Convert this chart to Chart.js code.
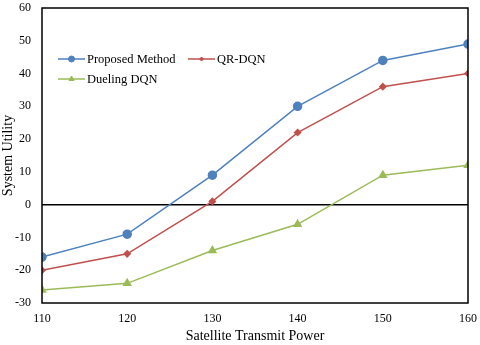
<!DOCTYPE html>
<html>
<head>
<meta charset="utf-8">
<script src="https://cdn.jsdelivr.net/npm/chart.js@4"></script>
<style>
  html, body { margin: 0; padding: 0; background: #fff; }
  #wrap { width: 480px; height: 345px; }
</style>
</head>
<body>
<div id="wrap"><canvas id="lineChart1"></canvas></div>
<script>
var powerLevels = [110, 120, 130, 140, 150, 160];
var proposedData = [-16, -9, 9, 30, 44, 49];
var qrDqnData = [-20, -15, 1, 22, 36, 40];
var duelingData = [-26, -24, -14, -6, 9, 12];
var yTicks = [-30, -20, -10, 0, 10, 20, 30, 40, 50, 60];

var serif = "'Liberation Serif', 'Times New Roman', serif";

function toPoints(vals) {
    return powerLevels.map(function (p, i) { return { x: p, y: vals[i] }; });
}

// frame around the plot + legend drawn inside the plot like the original
var framePlugin = {
    id: 'frame',
    afterDraw: function (chart) {
        var c = chart.ctx, a = chart.chartArea;
        c.save();
        c.strokeStyle = '#000';
        c.lineWidth = 1.5;
        c.strokeRect(a.left, a.top, a.right - a.left, a.bottom - a.top);

        var items = [
            { ds: 0, x: 58, y: 59 },
            { ds: 1, x: 188, y: 59 },
            { ds: 2, x: 58, y: 79 }
        ];
        c.font = '12.5px ' + serif;
        c.textBaseline = 'middle';
        items.forEach(function (it) {
            var ds = chart.data.datasets[it.ds];
            c.strokeStyle = ds.borderColor;
            c.lineWidth = 1.5;
            c.beginPath();
            c.moveTo(it.x, it.y);
            c.lineTo(it.x + 27, it.y);
            c.stroke();
            c.fillStyle = ds.pointBackgroundColor;
            c.strokeStyle = ds.pointBackgroundColor;
            c.lineWidth = 1;
            Chart.helpers.drawPoint(c, {
                pointStyle: ds.pointStyle,
                radius: ds.pointRadius - 1,
                borderWidth: 1
            }, it.x + 13.5, it.y);
            c.fillStyle = '#000';
            c.textAlign = 'left';
            c.fillText(ds.label, it.x + 29, it.y + 1);
        });
        c.restore();
    }
};

var ctx = document.getElementById('lineChart1');
var myChart = new Chart(ctx, {
    type: 'line',
    data: {
        datasets: [{
            label: 'Proposed Method',
            data: toPoints(proposedData),
            borderColor: '#4F81BD',
            backgroundColor: '#4F81BD',
            pointBackgroundColor: '#4F81BD',
            pointBorderColor: '#4F81BD',
            pointStyle: 'circle',
            pointRadius: 4,
            borderWidth: 1.5,
            tension: 0
        }, {
            label: 'QR-DQN',
            data: toPoints(qrDqnData),
            borderColor: '#C0504D',
            backgroundColor: '#C0504D',
            pointBackgroundColor: '#C0504D',
            pointBorderColor: '#C0504D',
            pointStyle: 'rectRot',
            pointRadius: 3,
            borderWidth: 1.5,
            tension: 0
        }, {
            label: 'Dueling DQN',
            data: toPoints(duelingData),
            borderColor: '#9BBB59',
            backgroundColor: '#9BBB59',
            pointBackgroundColor: '#9BBB59',
            pointBorderColor: '#9BBB59',
            pointStyle: 'triangle',
            pointRadius: 4,
            borderWidth: 1.5,
            tension: 0
        }]
    },
    options: {
        responsive: true,
        maintainAspectRatio: false,
        animation: false,
        layout: { padding: { top: 8, right: 12, left: 0, bottom: 0 } },
        plugins: {
            legend: { display: false },
            tooltip: { enabled: false }
        },
        scales: {
            x: {
                type: 'linear',
                min: 110,
                max: 160,
                afterFit: function (s) {
                    s.height = 42;
                    s.paddingLeft = 0;
                    s.paddingRight = 0;
                },
                ticks: {
                    stepSize: 10,
                    color: '#000',
                    font: { family: serif, size: 12 },
                    padding: 9
                },
                grid: { display: false, drawTicks: false },
                border: { display: false },
                title: {
                    display: true,
                    text: 'Satellite Transmit Power',
                    color: '#000',
                    font: { family: serif, size: 14 },
                    padding: { top: 0, bottom: 0 }
                }
            },
            y: {
                min: -30,
                max: 60,
                afterFit: function (s) {
                    s.width = 42;
                    s.paddingTop = 0;
                    s.paddingBottom = 0;
                },
                afterBuildTicks: function (s) {
                    s.ticks = yTicks.map(function (v) { return { value: v }; });
                },
                ticks: {
                    color: '#000',
                    font: { family: serif, size: 12 },
                    padding: 11
                },
                grid: {
                    drawTicks: false,
                    lineWidth: 1.5,
                    color: function (c) {
                        return c.tick && c.tick.value === 0 ? '#000' : 'rgba(0,0,0,0)';
                    }
                },
                border: { display: false },
                title: {
                    display: true,
                    text: 'System Utility',
                    color: '#000',
                    font: { family: serif, size: 14 },
                    padding: { top: 0, bottom: 0 }
                }
            }
        }
    },
    plugins: [framePlugin]
});
</script>
</body>
</html>
